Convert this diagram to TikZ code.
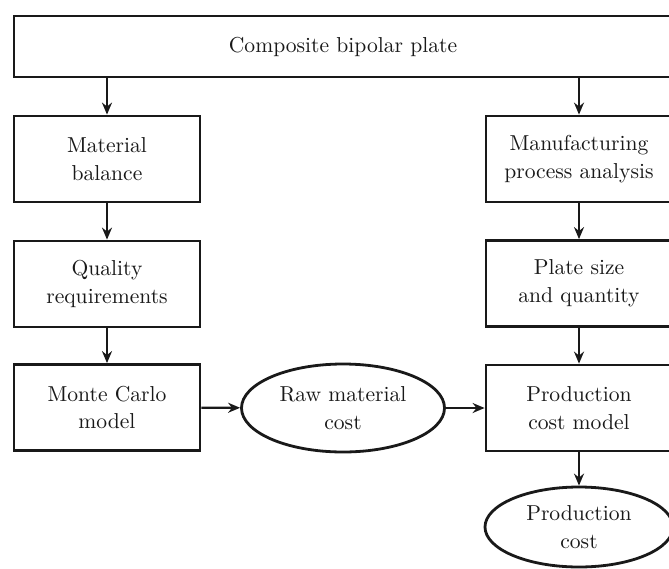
\documentclass[tikz,border=0pt]{standalone}
\usetikzlibrary{shapes.geometric,arrows.meta}
\begin{document}
\begin{tikzpicture}[x=0.5pt,y=-0.5pt,
  txt/.style={font=\fontsize{10.8}{13.8}\selectfont, align=center, text=black!90},
  box/.style={txt, draw=black!90, line width=1.4pt, rectangle, inner sep=0pt, minimum width=93pt, minimum height=43pt},
  oval/.style={txt, draw=black!90, line width=1.4pt, ellipse, inner sep=0pt},
  arr/.style={draw=black!90, line width=1.1pt, -{Stealth[length=6pt,width=5pt]}}]
\useasboundingbox (0,0) rectangle (669,568);
\clip (0,0) rectangle (669,568);
\node[box, minimum width=329pt, minimum height=30.5pt] (top) at (343,46.5) {Composite bipolar plate};
\node[box] (mb) at (107,159) {Material\\balance};
\node[box] (qr) at (107,284) {Quality\\requirements};
\node[box] (mc) at (107,407.5) {Monte Carlo\\model};
\node[box] (mpa) at (579,159) {Manufacturing\\process analysis};
\node[box] (ps) at (579,283.5) {Plate size\\and quantity};
\node[box] (pcm) at (579,408) {Production\\cost model};
\node[oval, minimum width=101.5pt, minimum height=44pt] (rmc) at (343,408) {Raw material\\cost};
\node[oval, minimum width=94pt, minimum height=40pt] (pc) at (579,527) {Production\\cost};
\draw[arr] (top.south -| mb.north) -- (mb.north);
\draw[arr] (top.south -| mpa.north) -- (mpa.north);
\draw[arr] (mb) -- (qr);
\draw[arr] (qr) -- (mc);
\draw[arr] (mpa) -- (ps);
\draw[arr] (ps) -- (pcm);
\draw[arr] (mc) -- (rmc);
\draw[arr] (rmc) -- (pcm);
\draw[arr] (pcm) -- (pc);
\end{tikzpicture}
\end{document}
